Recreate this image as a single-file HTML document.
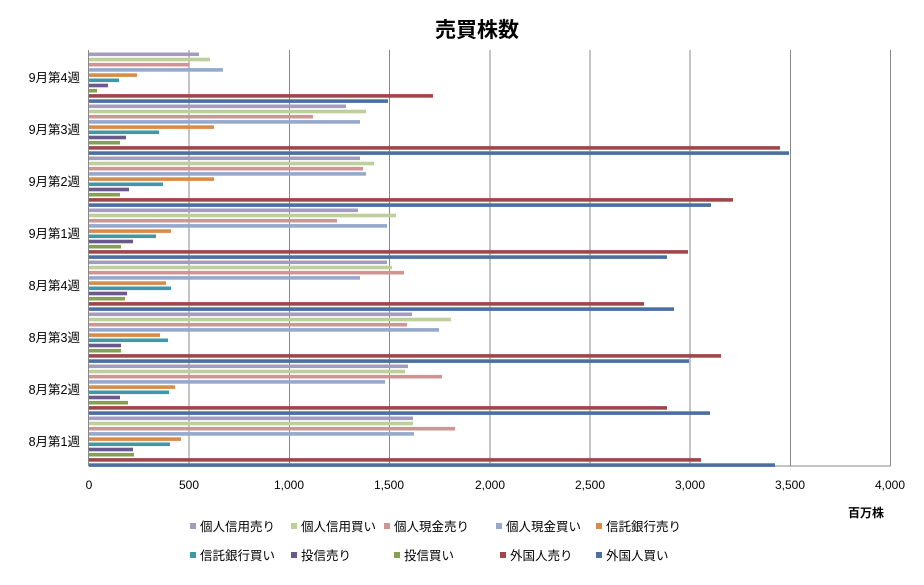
<!DOCTYPE html>
<html><head><meta charset="utf-8"><style>
body{margin:0;background:#fff}
svg{display:block;font-family:"Liberation Sans","Noto Sans CJK JP",sans-serif}
.a{fill:#a49cbc}.b{fill:#bdd09a}.c{fill:#cf9595}.d{fill:#95a9cc}.e{fill:#d98c4a}.f{fill:#3f97a8}.g{fill:#6a5a8a}.h{fill:#84a052}.i{fill:#a0464a}.j{fill:#4a6fa0}
</style></head><body>
<svg width="924" height="585" xmlns="http://www.w3.org/2000/svg">
<rect width="924" height="585" fill="#fff"/>
<text x="477" y="37" font-size="21" font-weight="bold" text-anchor="middle" fill="#000">売買株数</text>
<g stroke="#888" stroke-width="1">
<line x1="189" y1="50" x2="189" y2="466"/><line x1="289.5" y1="50" x2="289.5" y2="466"/>
<line x1="389.5" y1="50" x2="389.5" y2="466"/><line x1="490" y1="50" x2="490" y2="466"/>
<line x1="590" y1="50" x2="590" y2="466"/><line x1="690" y1="50" x2="690" y2="466"/>
<line x1="790.5" y1="50" x2="790.5" y2="466"/><line x1="890.5" y1="50" x2="890.5" y2="466"/>
<line x1="88.5" y1="50" x2="88.5" y2="466"/>
<line x1="88.5" y1="466" x2="890.5" y2="466"/>
</g>
<g transform="translate(89,52.5)">
<rect class="a" y="0" width="110" height="3.6"/><rect class="b" y="5.2" width="121" height="3.6"/><rect class="c" y="10.4" width="100" height="3.6"/><rect class="d" y="15.6" width="134" height="3.6"/><rect class="e" y="20.8" width="48" height="3.6"/><rect class="f" y="26" width="30" height="3.6"/><rect class="g" y="31.2" width="19" height="3.6"/><rect class="h" y="36.4" width="8" height="3.6"/><rect class="i" y="41.6" width="344" height="3.6"/><rect class="j" y="46.8" width="299" height="3.6"/>
</g>
<g transform="translate(89,104.5)">
<rect class="a" y="0" width="257" height="3.6"/><rect class="b" y="5.2" width="277" height="3.6"/><rect class="c" y="10.4" width="224" height="3.6"/><rect class="d" y="15.6" width="271" height="3.6"/><rect class="e" y="20.8" width="125" height="3.6"/><rect class="f" y="26" width="70" height="3.6"/><rect class="g" y="31.2" width="37" height="3.6"/><rect class="h" y="36.4" width="31" height="3.6"/><rect class="i" y="41.6" width="691" height="3.6"/><rect class="j" y="46.8" width="700" height="3.6"/>
</g>
<g transform="translate(89,156.5)">
<rect class="a" y="0" width="271" height="3.6"/><rect class="b" y="5.2" width="285" height="3.6"/><rect class="c" y="10.4" width="274" height="3.6"/><rect class="d" y="15.6" width="277" height="3.6"/><rect class="e" y="20.8" width="125" height="3.6"/><rect class="f" y="26" width="74" height="3.6"/><rect class="g" y="31.2" width="40" height="3.6"/><rect class="h" y="36.4" width="31" height="3.6"/><rect class="i" y="41.6" width="644" height="3.6"/><rect class="j" y="46.8" width="622" height="3.6"/>
</g>
<g transform="translate(89,208.5)">
<rect class="a" y="0" width="269" height="3.6"/><rect class="b" y="5.2" width="307" height="3.6"/><rect class="c" y="10.4" width="248" height="3.6"/><rect class="d" y="15.6" width="298" height="3.6"/><rect class="e" y="20.8" width="82" height="3.6"/><rect class="f" y="26" width="67" height="3.6"/><rect class="g" y="31.2" width="44" height="3.6"/><rect class="h" y="36.4" width="32" height="3.6"/><rect class="i" y="41.6" width="599" height="3.6"/><rect class="j" y="46.8" width="578" height="3.6"/>
</g>
<g transform="translate(89,260.5)">
<rect class="a" y="0" width="298" height="3.6"/><rect class="b" y="5.2" width="303" height="3.6"/><rect class="c" y="10.4" width="315" height="3.6"/><rect class="d" y="15.6" width="271" height="3.6"/><rect class="e" y="20.8" width="77" height="3.6"/><rect class="f" y="26" width="82" height="3.6"/><rect class="g" y="31.2" width="38" height="3.6"/><rect class="h" y="36.4" width="36" height="3.6"/><rect class="i" y="41.6" width="555" height="3.6"/><rect class="j" y="46.8" width="585" height="3.6"/>
</g>
<g transform="translate(89,312.5)">
<rect class="a" y="0" width="323" height="3.6"/><rect class="b" y="5.2" width="362" height="3.6"/><rect class="c" y="10.4" width="318" height="3.6"/><rect class="d" y="15.6" width="350" height="3.6"/><rect class="e" y="20.8" width="71" height="3.6"/><rect class="f" y="26" width="79" height="3.6"/><rect class="g" y="31.2" width="32" height="3.6"/><rect class="h" y="36.4" width="32" height="3.6"/><rect class="i" y="41.6" width="632" height="3.6"/><rect class="j" y="46.8" width="600" height="3.6"/>
</g>
<g transform="translate(89,364.5)">
<rect class="a" y="0" width="319" height="3.6"/><rect class="b" y="5.2" width="316" height="3.6"/><rect class="c" y="10.4" width="353" height="3.6"/><rect class="d" y="15.6" width="296" height="3.6"/><rect class="e" y="20.8" width="86" height="3.6"/><rect class="f" y="26" width="80" height="3.6"/><rect class="g" y="31.2" width="31" height="3.6"/><rect class="h" y="36.4" width="39" height="3.6"/><rect class="i" y="41.6" width="578" height="3.6"/><rect class="j" y="46.8" width="621" height="3.6"/>
</g>
<g transform="translate(89,416.5)">
<rect class="a" y="0" width="324" height="3.6"/><rect class="b" y="5.2" width="324" height="3.6"/><rect class="c" y="10.4" width="366" height="3.6"/><rect class="d" y="15.6" width="325" height="3.6"/><rect class="e" y="20.8" width="92" height="3.6"/><rect class="f" y="26" width="81" height="3.6"/><rect class="g" y="31.2" width="44" height="3.6"/><rect class="h" y="36.4" width="45" height="3.6"/><rect class="i" y="41.6" width="612" height="3.6"/><rect class="j" y="46.8" width="686" height="3.6"/>
</g>
<g font-size="12" fill="#000" text-anchor="middle">
<text x="89" y="489">0</text><text x="189" y="489">500</text><text x="289" y="489">1,000</text>
<text x="389" y="489">1,500</text><text x="490" y="489">2,000</text><text x="590" y="489">2,500</text>
<text x="690" y="489">3,000</text><text x="790" y="489">3,500</text><text x="890" y="489">4,000</text>
</g>
<g font-size="12.5" fill="#000" text-anchor="end">
<text x="80" y="82">9月第4週</text><text x="80" y="134">9月第3週</text><text x="80" y="186">9月第2週</text>
<text x="80" y="238">9月第1週</text><text x="80" y="290">8月第4週</text><text x="80" y="342">8月第3週</text>
<text x="80" y="394">8月第2週</text><text x="80" y="446">8月第1週</text>
</g>
<text x="866" y="517" font-size="12" font-weight="bold" text-anchor="middle">百万株</text>
<g font-size="12.5" fill="#000">
<rect x="190" y="523" width="6" height="6" class="a"/><text x="200" y="531">個人信用売り</text>
<rect x="291" y="523" width="6" height="6" class="b"/><text x="301" y="531">個人信用買い</text>
<rect x="384" y="523" width="6" height="6" class="c"/><text x="394" y="531">個人現金売り</text>
<rect x="496" y="523" width="6" height="6" class="d"/><text x="506" y="531">個人現金買い</text>
<rect x="596" y="523" width="6" height="6" class="e"/><text x="606" y="531">信託銀行売り</text>
<rect x="190" y="552" width="6" height="6" class="f"/><text x="200" y="560">信託銀行買い</text>
<rect x="291" y="552" width="6" height="6" class="g"/><text x="301" y="560">投信売り</text>
<rect x="394" y="552" width="6" height="6" class="h"/><text x="404" y="560">投信買い</text>
<rect x="500" y="552" width="6" height="6" class="i"/><text x="510" y="560">外国人売り</text>
<rect x="596" y="552" width="6" height="6" class="j"/><text x="606" y="560">外国人買い</text>
</g>
</svg>
</body></html>
